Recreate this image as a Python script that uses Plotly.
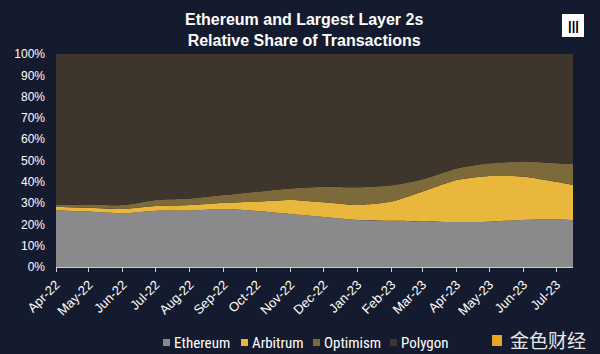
import plotly.graph_objects as go

dates = ["2022-04-01", "2022-05-01", "2022-06-01", "2022-07-01", "2022-08-01", "2022-09-01",
         "2022-10-01", "2022-11-01", "2022-12-01", "2023-01-01", "2023-02-01", "2023-03-01",
         "2023-04-01", "2023-05-01", "2023-06-01", "2023-07-01", "2023-07-16"]
ethereum = [26.6, 26.0, 25.2, 26.4, 26.5, 27.2, 26.3, 24.9, 23.5, 22.1, 21.7, 21.4, 21.1, 21.3, 22.1, 22.4, 22.0]
arbitrum = [1.7, 1.8, 2.0, 2.2, 2.6, 3.0, 4.4, 6.6, 6.9, 7.0, 9.0, 14.0, 19.7, 21.4, 20.3, 17.6, 16.5]
optimism = [0.8, 1.6, 1.9, 2.9, 3.1, 3.6, 4.7, 5.4, 7.3, 8.3, 7.7, 5.8, 5.5, 6.0, 7.1, 8.7, 9.9]
polygon = [round(100 - e - a - o, 1) for e, a, o in zip(ethereum, arbitrum, optimism)]

tick_vals = ["2022-04-01", "2022-05-01", "2022-06-01", "2022-07-01", "2022-08-01", "2022-09-01",
             "2022-10-01", "2022-11-01", "2022-12-01", "2023-01-01", "2023-02-01", "2023-03-01",
             "2023-04-01", "2023-05-01", "2023-06-01", "2023-07-01"]
tick_text = ["Apr-22", "May-22", "Jun-22", "Jul-22", "Aug-22", "Sep-22", "Oct-22", "Nov-22",
             "Dec-22", "Jan-23", "Feb-23", "Mar-23", "Apr-23", "May-23", "Jun-23", "Jul-23"]

series = [("Ethereum", ethereum, "#8a8a8c"), ("Arbitrum", arbitrum, "#e9b73b"),
          ("Optimism", optimism, "#7d6a3b"), ("Polygon", polygon, "#3e352d")]
# legend marker left edge (px) for each series
legend_x = [163, 241, 313, 390]

BG = "#151b2e"
FONT = "Liberation Sans"
NARROW = "Liberation Sans Narrow, Roboto Condensed, Liberation Sans"
PH = 213.0  # plot height in px (54..267)
PW = 517.0  # plot width in px (56..573)


def px_x(x):
    return (x - 56) / PW


def px_y(y):
    return (267 - y) / PH


fig = go.Figure()
for name, vals, col in series:
    fig.add_trace(go.Scatter(
        x=dates, y=vals, name=name, stackgroup="one", mode="lines",
        line=dict(width=0, color=col, shape="spline", smoothing=0.6),
        fillcolor=col, showlegend=False,
    ))

annotations = [
    dict(text="<b>Ethereum and Largest Layer 2s<br>Relative Share of Transactions</b>",
         xref="paper", yref="paper", x=px_x(304), y=px_y(30), xanchor="center",
         yanchor="middle", showarrow=False, font=dict(size=16, color="white", family=FONT)),
    dict(text="<b>|||</b>", xref="paper", yref="paper", x=px_x(573), y=px_y(25),
         xanchor="center", yanchor="middle", showarrow=False,
         font=dict(size=13, color="black", family=FONT)),
    dict(text="金色财经", xref="paper", yref="paper", x=px_x(548), y=px_y(339),
         xanchor="center", yanchor="middle", showarrow=False,
         font=dict(size=19, color="#e8e8e8", family="Noto Sans CJK SC")),
]
shapes = [
    dict(type="rect", xref="paper", yref="paper", x0=px_x(562), x1=px_x(584),
         y0=px_y(37), y1=px_y(14), fillcolor="white", line=dict(width=0), layer="below"),
    dict(type="rect", xref="paper", yref="paper", x0=px_x(492), x1=px_x(502),
         y0=px_y(346), y1=px_y(335), fillcolor="#e9a623", line=dict(width=0)),
]
for (name, _, col), lx in zip(series, legend_x):
    shapes.append(dict(type="rect", xref="paper", yref="paper", x0=px_x(lx), x1=px_x(lx + 7),
                       y0=px_y(346), y1=px_y(339), fillcolor=col, line=dict(width=0)))
    annotations.append(dict(text=name, xref="paper", yref="paper", x=px_x(lx + 9), y=px_y(342.5),
                            xanchor="left", yanchor="middle", showarrow=False,
                            font=dict(size=15, color="white", family=NARROW)))

fig.update_layout(
    width=600, height=354,
    paper_bgcolor=BG, plot_bgcolor=BG,
    margin=dict(l=56, r=27, t=54, b=87, autoexpand=False),
    font=dict(family=FONT, color="white", size=12),
    showlegend=False,
    xaxis=dict(
        type="date", range=["2022-04-01", "2023-07-16"], automargin=False,
        tickvals=tick_vals, ticktext=tick_text, tickangle=-45,
        ticks="outside", ticklen=4, tickcolor="#cfcfcf", showgrid=False,
        showline=True, linecolor="#cfcfcf", linewidth=1, zeroline=False,
        tickfont=dict(size=13, color="white"),
    ),
    yaxis=dict(
        range=[0, 100], tickvals=list(range(0, 101, 10)), automargin=False,
        ticktext=[f"{v}%" for v in range(0, 101, 10)], showgrid=False, zeroline=False,
        showline=False, tickfont=dict(size=12, color="white"), ticks="",
        ticklabelstandoff=10,
    ),
    annotations=annotations,
    shapes=shapes,
)

fig.write_html("out.html")
